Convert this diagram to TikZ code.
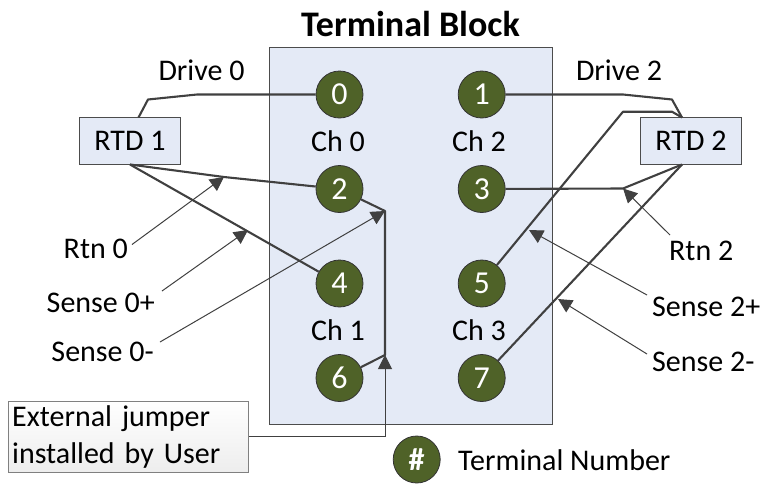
\documentclass[tikz,border=0pt]{standalone}
\usepackage{fontspec}
\setmainfont{Carlito}
\usepackage{xcolor}
\usetikzlibrary{arrows.meta}
\definecolor{blockblue}{HTML}{E4EAF6}
\definecolor{termgreen}{HTML}{4F6228}
\definecolor{wiregray}{HTML}{404040}
\begin{document}
\begin{tikzpicture}[
			x=1pt,y=-1pt,
			lbl/.style={inner sep=0pt,font=\fontsize{30}{36}\selectfont},
			term/.style={circle,draw=black!80,line width=0.8pt,fill=termgreen,text=white,minimum size=47pt,inner sep=0pt,font=\fontsize{32}{36}\selectfont},
			rtd/.style={rectangle,draw=black!70,line width=1pt,fill=blockblue,minimum width=100.5pt,minimum height=47pt,inner sep=0pt,font=\fontsize{30}{36}\selectfont},
			wire/.style={draw=wiregray,line width=2.1pt,line join=round},
			pointer/.style={draw=wiregray,line width=1pt,-{Triangle[length=14pt,width=14pt]}},
			]
			\useasboundingbox (0,0) rectangle (768,483);
			\node [lbl,font=\fontsize{36}{40}\bfseries\selectfont] (title) at (410.5,24) {Terminal Block};
			\node [rectangle,draw=black!70,line width=1pt,fill=blockblue,minimum width=283pt,minimum height=377pt,inner sep=0pt] (block) at (410.5,235.5) {};
			\node [term] (t0) at (339.5,94.5) {0};
			\node [term] (t2) at (339.5,189) {2};
			\node [term] (t4) at (339.5,283.5) {4};
			\node [term] (t6) at (339.5,378) {6};
			\node [term] (t1) at (481.7,94.5) {1};
			\node [term] (t3) at (481.7,189) {3};
			\node [term] (t5) at (481.7,283.5) {5};
			\node [term] (t7) at (481.7,378) {7};
			\node [lbl] (ch0) at (338,141) {Ch 0};
			\node [lbl] (ch2) at (479,141) {Ch 2};
			\node [lbl] (ch1) at (338,330) {Ch 1};
			\node [lbl] (ch3) at (479,330) {Ch 3};
			\node [rtd] (rtd1) at (130,141) {RTD 1};
			\node [rtd] (rtd2) at (691,141) {RTD 2};
			\node [lbl] (drive0) at (201.5,70) {Drive 0};
			\node [lbl] (drive2) at (619,70) {Drive 2};
			\node [lbl,anchor=east] (rtn0) at (128,249) {Rtn 0};
			\node [lbl,anchor=east] (sense0p) at (155,303) {Sense 0+};
			\node [lbl,anchor=east] (sense0m) at (154,352) {Sense 0-};
			\node [lbl,anchor=west] (rtn2) at (669,251) {Rtn 2};
			\node [lbl,anchor=west] (sense2p) at (652,307) {Sense 2+};
			\node [lbl,anchor=west] (sense2m) at (652,362) {Sense 2-};
			\node [rectangle,draw=black!50,line width=1pt,top color=white,bottom color=black!7,minimum width=240.5pt,minimum height=71pt,inner sep=0pt,text width=233pt,align=left,font=\fontsize{30}{37}\selectfont] (jumper) at (128.7,436.5) {External jumper\\installed by User};
			\node [term,font=\fontsize{32}{36}\bfseries\selectfont] (legend) at (416.7,459.5) {\#};
			\node [lbl,anchor=west] (legendtxt) at (458,460) {Terminal Number};
			% wire bends
			\coordinate (a0) at (148,99.5);
			\coordinate (b0) at (197,94.5);
			\coordinate (a2) at (224,177);
			\coordinate (j0) at (385,211);
			\coordinate (j1) at (385,355);
			\coordinate (a1) at (623,94.5);
			\coordinate (b1) at (672,99.5);
			\coordinate (a5) at (623,111.7);
			\coordinate (b5) at (672,111.7);
			\coordinate (a3) at (623,188.5);
			\coordinate (s0) at (248,230);
			\coordinate (s2) at (529,230);
			\coordinate (s3) at (558,299);
			\coordinate (corner) at (385,436);
			% wires
			\draw[wire] (t0) -- (b0) -- (a0) -- (138.5,117.5);
			\draw[wire] (130,164.5) -- (a2) -- (t2);
			\draw[wire] (130,164.5) -- (t4);
			\draw[wire] (t2) -- (j0) -- (j1) -- (t6);
			\draw[wire] (t1) -- (a1) -- (b1) -- (682,117.5);
			\draw[wire] (t5) -- (a5) -- (b5) -- (682,117.5);
			\draw[wire] (t3) -- (a3) -- (682,164.5);
			\draw[wire] (t7) -- (682,164.5);
			% pointers
			\draw[pointer] (132,244.5) -- (a2);
			\draw[pointer] (162,291) -- (s0);
			\draw[pointer] (160,342) -- (j0);
			\draw[pointer] (jumper.east |- corner) -- (corner) -- (j1);
			\draw[pointer] (670,235) -- (a3);
			\draw[pointer] (647,295) -- (s2);
			\draw[pointer] (647,354) -- (s3);
		\end{tikzpicture}
\end{document}
